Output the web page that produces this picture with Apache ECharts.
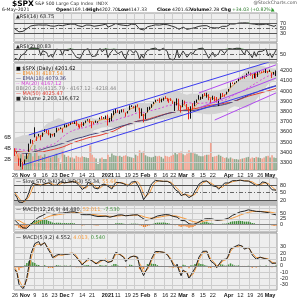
<!DOCTYPE html>
<html><head><meta charset="utf-8">
<script src="https://cdn.jsdelivr.net/npm/echarts@6/dist/echarts.min.js"></script>
<style>html,body{margin:0;padding:0;background:#fff}#c{width:300px;height:300px}</style>
</head><body><div id="c"></div>
<script>
// ---------- DATA ----------
const dates = [
'2020-10-26','2020-10-27','2020-10-28','2020-10-29','2020-10-30',
'2020-11-02','2020-11-03','2020-11-04','2020-11-05','2020-11-06','2020-11-09','2020-11-10','2020-11-11','2020-11-12','2020-11-13','2020-11-16','2020-11-17','2020-11-18','2020-11-19','2020-11-20','2020-11-23','2020-11-24','2020-11-25','2020-11-27','2020-11-30',
'2020-12-01','2020-12-02','2020-12-03','2020-12-04','2020-12-07','2020-12-08','2020-12-09','2020-12-10','2020-12-11','2020-12-14','2020-12-15','2020-12-16','2020-12-17','2020-12-18','2020-12-21','2020-12-22','2020-12-23','2020-12-24','2020-12-28','2020-12-29','2020-12-30','2020-12-31',
'2021-01-04','2021-01-05','2021-01-06','2021-01-07','2021-01-08','2021-01-11','2021-01-12','2021-01-13','2021-01-14','2021-01-15','2021-01-19','2021-01-20','2021-01-21','2021-01-22','2021-01-25','2021-01-26','2021-01-27','2021-01-28','2021-01-29',
'2021-02-01','2021-02-02','2021-02-03','2021-02-04','2021-02-05','2021-02-08','2021-02-09','2021-02-10','2021-02-11','2021-02-12','2021-02-16','2021-02-17','2021-02-18','2021-02-19','2021-02-22','2021-02-23','2021-02-24','2021-02-25','2021-02-26',
'2021-03-01','2021-03-02','2021-03-03','2021-03-04','2021-03-05','2021-03-08','2021-03-09','2021-03-10','2021-03-11','2021-03-12','2021-03-15','2021-03-16','2021-03-17','2021-03-18','2021-03-19','2021-03-22','2021-03-23','2021-03-24','2021-03-25','2021-03-26','2021-03-29','2021-03-30','2021-03-31',
'2021-04-01','2021-04-05','2021-04-06','2021-04-07','2021-04-08','2021-04-09','2021-04-12','2021-04-13','2021-04-14','2021-04-15','2021-04-16','2021-04-19','2021-04-20','2021-04-21','2021-04-22','2021-04-23','2021-04-26','2021-04-27','2021-04-28','2021-04-29','2021-04-30',
'2021-05-03','2021-05-04','2021-05-05','2021-05-06'];

const opens = [
3441.42,3403.15,3342.48,3277.17,3293.59,
3296.20,3336.25,3406.46,3485.74,3508.34,3583.04,3543.26,3563.22,3562.67,3552.57,3600.16,3610.31,3612.09,3559.41,3579.31,3566.82,3594.52,3635.50,3638.55,3634.18,
3645.87,3653.78,3668.28,3670.94,3694.73,3683.05,3705.98,3659.13,3656.08,3675.27,3666.41,3696.25,3713.65,3722.39,3684.28,3698.08,3693.42,3694.03,3723.03,3750.01,3736.19,3733.27,
3764.61,3698.02,3712.20,3764.71,3815.05,3803.14,3801.62,3802.23,3814.98,3788.73,3781.88,3816.22,3857.46,3844.24,3851.68,3862.96,3836.83,3755.75,3778.05,
3731.17,3791.84,3840.27,3836.66,3878.30,3892.59,3910.49,3920.78,3916.40,3911.65,3939.61,3918.50,3915.86,3921.16,3885.55,3857.07,3873.71,3915.80,3839.66,
3842.51,3903.64,3863.99,3818.53,3793.58,3844.39,3851.93,3891.99,3915.54,3924.52,3942.96,3973.59,3949.57,3953.50,3913.14,3916.48,3937.60,3919.93,3879.34,3917.12,3969.31,3963.34,3967.25,
3992.78,4034.44,4075.57,4074.29,4089.95,4096.11,4124.71,4130.10,4141.58,4139.76,4174.14,4179.80,4159.18,4128.42,4170.46,4138.78,4185.03,4188.25,4185.14,4206.14,4198.10,
4191.98,4179.04,4177.06,4169.14];

const highs = [
3441.42,3409.51,3342.48,3341.05,3304.93,
3330.14,3389.49,3486.25,3529.05,3521.58,3645.99,3557.22,3581.16,3569.02,3593.66,3628.51,3623.11,3619.09,3585.22,3581.23,3589.81,3642.31,3635.50,3644.31,3634.18,
3678.45,3670.96,3682.73,3699.20,3697.41,3708.45,3712.39,3678.49,3665.91,3697.61,3695.29,3711.27,3725.12,3726.70,3702.90,3698.26,3711.24,3703.82,3740.51,3756.12,3744.63,3760.20,
3769.99,3737.83,3783.04,3811.55,3826.69,3817.86,3810.78,3820.96,3823.60,3788.73,3804.53,3859.75,3861.45,3852.31,3859.23,3870.90,3836.83,3830.50,3778.05,
3784.32,3843.09,3847.51,3872.42,3894.56,3915.77,3918.35,3931.50,3925.99,3937.23,3950.43,3933.61,3921.98,3930.41,3902.92,3895.98,3928.65,3925.02,3861.08,
3914.50,3906.41,3874.47,3843.67,3851.69,3881.06,3903.76,3917.35,3960.27,3944.99,3970.08,3981.04,3983.87,3969.62,3930.12,3955.31,3949.13,3942.08,3919.54,3978.19,3981.83,3968.01,3994.41,
4020.63,4083.42,4086.23,4083.13,4098.19,4129.48,4131.76,4148.00,4151.69,4173.49,4191.31,4180.81,4159.18,4175.02,4179.57,4194.17,4194.19,4193.35,4201.53,4218.78,4198.10,
4209.39,4179.04,4187.72,4202.70];

const lows = [
3364.86,3388.71,3268.89,3259.82,3233.94,
3279.74,3336.25,3405.17,3485.74,3484.34,3547.48,3511.91,3557.00,3518.58,3552.57,3600.16,3588.68,3567.33,3543.84,3556.85,3552.77,3594.52,3617.76,3629.33,3594.39,
3645.87,3644.84,3657.17,3670.94,3678.88,3678.83,3660.54,3645.18,3633.40,3645.84,3659.62,3688.57,3710.87,3685.84,3636.48,3676.16,3689.28,3689.32,3723.03,3723.31,3730.21,3726.88,
3662.71,3695.07,3705.34,3764.71,3783.60,3789.02,3776.51,3791.50,3792.86,3749.62,3780.37,3816.22,3845.05,3830.41,3797.16,3847.78,3732.48,3755.75,3694.12,
3725.62,3791.84,3816.68,3836.66,3874.93,3892.59,3902.64,3884.94,3890.39,3905.78,3923.85,3900.43,3885.03,3903.07,3874.71,3805.59,3859.60,3814.04,3789.54,
3842.51,3868.57,3818.86,3723.34,3730.19,3819.25,3851.93,3885.73,3915.54,3915.21,3923.54,3953.44,3935.74,3910.86,3886.75,3914.16,3901.57,3889.07,3853.50,3917.12,3943.25,3944.35,3966.98,
3992.78,4034.44,4068.14,4068.31,4082.54,4095.51,4114.82,4124.43,4120.87,4139.76,4170.75,4150.47,4118.38,4126.35,4123.69,4138.78,4182.36,4176.22,4181.78,4176.81,4174.85,
4188.03,4128.59,4160.94,4147.33];

const closes = [
3400.97,3390.68,3271.03,3310.11,3269.96,
3310.24,3369.16,3443.44,3510.45,3509.44,3550.50,3545.53,3572.66,3537.01,3585.15,3626.91,3609.53,3567.79,3581.87,3557.54,3577.59,3635.41,3629.65,3638.35,3621.63,
3662.45,3669.01,3666.72,3699.12,3691.96,3702.25,3672.82,3668.10,3663.46,3647.49,3694.62,3701.17,3722.48,3709.41,3694.92,3687.26,3690.01,3703.06,3735.36,3727.04,3732.04,3756.07,
3700.65,3726.86,3748.14,3803.79,3824.68,3799.61,3801.19,3809.84,3795.54,3768.25,3798.91,3851.85,3853.07,3841.47,3855.36,3849.62,3750.77,3787.38,3714.24,
3773.86,3826.31,3830.17,3871.74,3886.83,3915.59,3911.23,3909.88,3916.38,3934.83,3932.59,3931.33,3913.97,3906.71,3876.50,3881.37,3925.43,3829.34,3811.15,
3901.82,3870.29,3819.72,3768.47,3841.94,3821.35,3875.44,3898.81,3939.34,3943.34,3968.94,3962.71,3974.12,3915.46,3913.10,3940.59,3910.52,3889.14,3909.52,3974.54,3971.09,3958.55,3972.89,
4019.87,4077.91,4073.94,4079.95,4097.17,4128.80,4127.99,4141.59,4124.66,4170.42,4185.47,4163.26,4134.94,4173.42,4134.98,4180.17,4187.62,4186.72,4183.18,4211.47,4181.17,
4192.66,4164.66,4167.59,4201.62];

// volume in billions
const volumes = [
2.9,2.7,3.2,2.9,3.3,
2.6,2.5,3.4,3.0,2.5,4.6,3.6,2.6,2.7,2.4,2.9,2.4,2.6,2.3,2.4,2.7,3.0,2.2,1.2,3.5,
2.8,2.4,2.6,2.3,2.3,2.1,2.6,2.4,2.3,2.5,2.4,2.3,2.2,4.5,2.8,2.3,2.1,1.1,2.1,2.3,2.0,2.0,
2.8,2.4,3.0,2.7,2.6,2.5,2.6,2.4,2.6,2.7,2.5,2.4,2.3,2.2,2.8,2.6,3.6,3.3,3.4,
2.7,2.5,2.4,2.3,2.4,2.6,2.5,2.6,2.4,2.1,2.6,2.5,2.4,2.6,2.8,3.2,2.9,3.3,3.4,
2.9,2.7,3.0,3.6,3.3,3.2,3.0,2.9,2.6,2.5,2.5,2.7,2.8,2.8,5.0,2.4,2.5,2.6,2.8,2.6,2.4,2.2,2.3,
2.1,2.3,2.1,2.0,2.0,1.9,2.0,2.1,2.2,2.3,2.4,2.1,2.3,2.2,2.4,2.3,2.2,2.1,2.3,2.5,2.6,
2.3,2.7,2.3,2.2];

// history before the visible window (Aug 3 - Oct 23 2020) used to warm up indicators
const warmCloses = [
3294.61,3306.51,3327.77,3349.16,3351.28,3360.47,3333.69,3380.35,3373.43,3372.85,3381.99,3389.78,3374.85,3385.51,3397.16,3431.28,3443.62,3478.73,3484.55,3508.01,3500.31,
3526.65,3580.84,3455.06,3426.96,3331.84,3398.96,3339.19,3340.97,3383.54,3401.20,3385.49,3357.01,3319.47,3281.06,3315.57,3236.92,3246.59,3298.46,3351.60,3335.47,3363.00,
3380.80,3348.42,3408.60,3360.97,3419.44,3446.83,3477.14,3534.22,3511.93,3488.67,3483.34,3483.81,3426.92,3443.12,3435.56,3453.49,3465.39];
// highs / lows of the last 20 warm-up days (Sep 28 - Oct 23)
const warmHighs = [3360.74,3357.92,3393.56,3397.18,3369.10,3409.57,3431.56,3426.26,3447.28,3482.34,3549.85,3534.01,3527.94,3489.08,3515.76,3502.42,3476.93,3464.86,3460.53,3466.46];
const warmLows  = [3332.91,3327.54,3340.47,3361.39,3323.69,3367.27,3354.54,3384.12,3428.15,3458.07,3499.61,3500.86,3480.55,3440.89,3480.45,3419.93,3435.65,3433.06,3415.34,3440.45];

// x tick labels
const tickDates = ['2020-10-26','2020-11-02','2020-11-09','2020-11-16','2020-11-23','2020-12-01','2020-12-07','2020-12-14','2020-12-21','2021-01-04','2021-01-11','2021-01-19','2021-01-25','2021-02-01','2021-02-08','2021-02-16','2021-02-22','2021-03-01','2021-03-08','2021-03-15','2021-03-22','2021-04-01','2021-04-12','2021-04-19','2021-04-26','2021-05-03'];
const tickTexts = ['26','Nov','9','16','23','Dec','7','14','21','2021','11','19','25','Feb','8','16','22','Mar','8','15','22','Apr','12','19','26','May'];

// y tick labels
const rsi14Ticks = [90,70,50,30,10];
const rsi2Ticks = [90,50,10];
const priceTicks = [4200,4100,4000,3900,3800,3700,3600,3500,3400,3300];
const volTicks = [2,4,6];
const stoTicks = [80,50,20];
const macd1Ticks = [75,50,25,0,-25];
const macd2Ticks = [30,20,10,0,-10,-20,-30];

// hand-drawn trend lines [startDate, startPrice, endDate, endPrice]
const blueLines = [
  ['2020-11-04',3571,'2021-05-06',4305],
  ['2020-10-30',3277,'2021-05-06',4050]
];
const purpleLines = [
  ['2021-03-11',3982,'2021-05-06',4257],
  ['2021-03-11',3835,'2021-05-06',4128],
  ['2021-03-23',3717,'2021-05-06',3982]
];
// period of the blue EMA overlay (its legend value 4079.36 fits a ~50-day average)
const emaLongPeriod = 50;

// ---------- INDICATORS ----------
const W = warmCloses.length, N = closes.length;
const C = warmCloses.concat(closes);
const H = new Array(W - warmHighs.length).fill(null).concat(warmHighs, highs);
const L = new Array(W - warmLows.length).fill(null).concat(warmLows, lows);
function sma(a,n){return a.map((_,i)=>{if(i<n-1)return null;let s=0;for(let j=i-n+1;j<=i;j++){if(a[j]==null)return null;s+=a[j];}return s/n;});}
function sd(a,n){const m=sma(a,n);return a.map((_,i)=>{if(m[i]==null)return null;let s=0;for(let j=i-n+1;j<=i;j++)s+=(a[j]-m[i])**2;return Math.sqrt(s/n);});}
function ema(a,n){const k=2/(n+1);const out=[];let prev=null,cnt=0,sum=0;for(const v of a){if(v==null){out.push(null);continue;}if(prev==null){sum+=v;cnt++;if(cnt===n){prev=sum/n;out.push(prev);}else out.push(null);}else{prev=v*k+prev*(1-k);out.push(prev);}}return out;}
function rsi(a,n){const out=[null];let ag=0,al=0;for(let i=1;i<a.length;i++){const d=a[i]-a[i-1];const g=Math.max(d,0),l=Math.max(-d,0);if(i<=n){ag+=g;al+=l;if(i===n){ag/=n;al/=n;out.push(100-100/(1+ag/al));}else out.push(null);}else{ag=(ag*(n-1)+g)/n;al=(al*(n-1)+l)/n;out.push(al===0?100:100-100/(1+ag/al));}}return out;}
function macd(a,f,s,g){const ef=ema(a,f),es=ema(a,s);const m=a.map((_,i)=>ef[i]==null||es[i]==null?null:ef[i]-es[i]);const sg=ema(m,g);const h=m.map((v,i)=>v==null||sg[i]==null?null:v-sg[i]);return [m,sg,h];}
function fastK(n){return C.map((c,i)=>{if(i<n-1)return null;let hh=-Infinity,ll=Infinity;for(let j=i-n+1;j<=i;j++){if(H[j]==null)return null;hh=Math.max(hh,H[j]);ll=Math.min(ll,L[j]);}return (c-ll)/(hh-ll)*100;});}
const vis = a => a.slice(W);
const ema3 = vis(ema(C,3)), emaLong = vis(ema(C,emaLongPeriod)), ma20 = vis(sma(C,20)), ma50 = vis(sma(C,50));
const sd20 = vis(sd(C,20));
const bbUp = ma20.map((m,i)=>m+2*sd20[i]), bbLo = ma20.map((m,i)=>m-2*sd20[i]);
const rsi14 = vis(rsi(C,14)), rsi2 = vis(rsi(C,2));
const [m1,s1,h1] = macd(C,12,26,9).map(vis);
const [m2,s2,h2] = macd(C,5,9,2).map(vis);
const sk = sma(fastK(14),3), sdd = sma(sk,3);
const stoK = vis(sk), stoD = vis(sdd);

// ---------- CHART ----------
const FONT = 'DejaVu Sans', AXF = 'Liberation Sans';
const tickMap = {}; tickDates.forEach((d,i)=>tickMap[d]=tickTexts[i]);
const boldSet = new Set(['Nov','Dec','2021','Feb','Mar','Apr','May']);
const grids = [[13,29],[43,19],[63,107],[178,27],[205,27],[233,57]].map(([t,h])=>({left:14,right:23,top:t,height:h,show:true,backgroundColor:'#eeeeee',borderColor:'#9a9a9a',borderWidth:1,outerBoundsMode:'none'}));
function xFmt(v){const t=tickMap[v];if(t==null)return '';return boldSet.has(t)?'{b|'+t+'}':t;}
function xAx(gi,showLabel){return {type:'category',gridIndex:gi,data:dates,boundaryGap:true,axisLine:{show:false},axisTick:{show:false},
  axisLabel:{show:showLabel,interval:(i,v)=>v in tickMap,hideOverlap:false,showMinLabel:true,formatter:xFmt,fontSize:5.5,fontFamily:AXF,color:'#222',margin:2,rich:{b:{fontWeight:'bold',fontSize:5.5,fontFamily:AXF,color:'#111'}}},
  splitLine:{show:true,interval:(i,v)=>v in tickMap,lineStyle:{color:'#cdcdcd',width:1}}};}
function yAx(gi,min,max,ticks,pos,fmt){return {type:'value',gridIndex:gi,position:pos||'right',min,max,scale:true,axisLine:{show:false},axisTick:{show:false},splitLine:{show:false},
  axisLabel:{customValues:ticks,fontSize:5.5,fontFamily:AXF,color:'#222',margin:3,formatter:fmt||(v=>String(v))}};}
const xAxes=[0,1,2,3,4,5].map(i=>xAx(i,i===2||i===5));
const yAxes=[
  yAx(0,-8,115,rsi14Ticks), yAx(1,-14,138,rsi2Ticks), yAx(2,3228,4275,priceTicks),
  yAx(2,0,19.6,volTicks,'left',v=>v+'B'),
  yAx(3,0,108,stoTicks), yAx(4,-38,92,macd1Ticks), yAx(5,-38,52,macd2Ticks)];

function gl(vals,special){return {silent:true,symbol:'none',animation:false,label:{show:false},
  lineStyle:{color:'#cdcdcd',width:1,type:'solid'},
  data:vals.map(v=>{const s=special&&special[v];return s?{yAxis:v,lineStyle:s}:{yAxis:v};})};}
const DARK={color:'#555',width:1,type:'solid'}, DASH={color:'#666',width:1,type:[4,2,1,2]};
function helper(xi,yi,vals,special){return {type:'line',xAxisIndex:xi,yAxisIndex:yi,data:[],z:1,silent:true,markLine:gl(vals,special)};}
function line(xi,yi,data,color,width,extra){return Object.assign({type:'line',xAxisIndex:xi,yAxisIndex:yi,data,symbol:'none',showSymbol:false,silent:true,animation:false,lineStyle:{color,width:width||1},z:4},extra||{});}
function fill(xi,yi,data,level,color,above){return {type:'line',xAxisIndex:xi,yAxisIndex:yi,symbol:'none',silent:true,animation:false,z:3,
  data:data.map(v=>v==null?null:(above?Math.max(v,level):Math.min(v,level))),lineStyle:{width:0},areaStyle:{origin:level,color,opacity:1}};}
function hist(xi,yi,data,pos,neg){return {type:'bar',xAxisIndex:xi,yAxisIndex:yi,silent:true,animation:false,barWidth:'70%',z:3,
  data:data.map(v=>({value:v,itemStyle:{color:v>=0?pos:neg}}))};}

const prevClose = i => i===0 ? warmCloses[W-1] : closes[i-1];
const candleData = dates.map((d,i)=>{const up=closes[i]>=prevClose(i);const col=up?'#111':'#e3251f';
  return {value:[opens[i],closes[i],lows[i],highs[i]],itemStyle:{color:col,color0:col,borderColor:col,borderColor0:col}};});
const volData = volumes.map((v,i)=>({value:v,itemStyle:{color:closes[i]>=prevClose(i)?'#8fa98c':'#f2a28f'}}));
const trend = (arr,color)=>arr.map(l=>line(2,2,[[l[0],l[1]],[l[2],l[3]]],color,1,{z:6,connectNulls:true}));

const series=[
  helper(0,0,rsi14Ticks,{70:DARK,30:DARK,50:DASH}),
  fill(0,0,rsi14,70,'#3f8f3a',true), fill(0,0,rsi14,30,'#f07f2a',false),
  line(0,0,rsi14,'#333',1),
  helper(1,1,rsi2Ticks,{90:DARK,10:DARK,50:DASH}),
  fill(1,1,rsi2,90,'#3f8f3a',true), fill(1,1,rsi2,10,'#f07f2a',false),
  line(1,1,rsi2,'#333',1),
  helper(2,2,priceTicks),
  {type:'line',xAxisIndex:2,yAxisIndex:2,data:bbLo,stack:'bb',symbol:'none',silent:true,animation:false,lineStyle:{width:0},z:2},
  {type:'line',xAxisIndex:2,yAxisIndex:2,data:bbUp.map((u,i)=>u-bbLo[i]),stack:'bb',symbol:'none',silent:true,animation:false,lineStyle:{width:0},areaStyle:{color:'#d3d3d3',opacity:1},z:2},
  {type:'bar',xAxisIndex:2,yAxisIndex:3,data:volData,barWidth:'80%',silent:true,animation:false,z:3},
  line(2,2,ma50,'#e23b2e',1),
  line(2,2,ma20,'#d94ad9',1,{lineStyle:{color:'#d94ad9',width:1,type:[2,2]}}),
  line(2,2,emaLong,'#45457a',1),
  line(2,2,ema3,'#f08a24',0.8),
  {type:'candlestick',xAxisIndex:2,yAxisIndex:2,data:candleData,barWidth:'55%',silent:true,animation:false,z:5},
  ...trend(blueLines,'#3a3af0'), ...trend(purpleLines,'#b04af0'),
  helper(3,4,stoTicks,{80:DARK,20:DARK,50:DASH}),
  {type:'line',xAxisIndex:3,yAxisIndex:4,data:[],z:1,silent:true,markArea:{silent:true,itemStyle:{color:'#bdbdbd'},data:[[{yAxis:0},{yAxis:20}]]}},
  line(3,4,stoD,'#f59a3c',1), line(3,4,stoK,'#222',1),
  helper(4,5,macd1Ticks,{0:{color:'#888',width:1}}),
  hist(4,5,h1,'#3f8f3a','#f07f2a'),
  line(4,5,s1,'#f59a3c',1), line(4,5,m1,'#222',1),
  helper(5,6,macd2Ticks,{0:{color:'#888',width:1}}),
  hist(5,6,h2,'#3f8f3a','#f07f2a'),
  line(5,6,s2,'#f59a3c',1), line(5,6,m2,'#222',1)
];

const T=(x,y,text,fill,size,bold,extra)=>Object.assign({type:'text',x,y,silent:true,style:{text,fill:fill||'#000',font:(bold?'bold ':'')+(size||5)+'px '+FONT,textVerticalAlign:'top'},z:100},extra||{});
const graphic=[
  T(12,0,'$SPX','#000',7.5,true), T(35,1.5,'S&P 500 Large Cap Index  INDX','#333',4.6),
  T(297,0.5,'@StockCharts.com','#555',4.6,false,{style:{text:'@StockCharts.com',fill:'#555',font:'4.6px '+FONT,textVerticalAlign:'top',textAlign:'right'}}),
  T(2,7.5,'6-May-2021','#222',4.6),
  T(56,7.5,'Open','#000',4.6,true), T(69,7.5,'4169.14','#222',4.6),
  T(87,7.5,'High','#000',4.6,true), T(99,7.5,'4202.70','#222',4.6),
  T(118,7.5,'Low','#000',4.6,true), T(128,7.5,'4147.33','#222',4.6),
  T(157,7.5,'Close','#000',4.6,true), T(172,7.5,'4201.62','#222',4.6),
  T(190,7.5,'Volume','#000',4.6,true), T(209,7.5,'2.2B','#222',4.6),
  T(221,7.5,'Chg','#000',4.6,true), T(232,7.5,'+34.03 (+0.82%)','#2a7a2a',4.6), T(271,7.5,'▲','#2a9a2a',4.6),
  T(16,14,'▲RSI(14) 63.75','#222',5),
  T(16,44,'▲RSI(2) 80.83','#222',5),
  T(16,66,'■ $SPX (Daily) 4201.62','#000',5),
  T(16,71,'— EMA(3) 4187.54','#f08a24',5),
  T(16,76,'— EMA(18) 4079.36','#45457a',5),
  T(16,81,'-- MA(20) 4167.12','#d94ad9',5),
  T(16,86,'BB(20,2.0) 4115.79 - 4167.12 - 4218.44','#888',5),
  T(16,91,'— MA(50) 4025.47','#e23b2e',5),
  T(16,96,'■ Volume 2,203,136,672','#222',5),
  {type:'text',x:16,y:179,silent:true,z:100,style:{text:'{k|— Slow STO %K(14) %D(3) 55.34,} {d|55.66}',textVerticalAlign:'top',font:'5px '+FONT,rich:{k:{fill:'#222',font:'5px '+FONT},d:{fill:'#f59a3c',font:'5px '+FONT}}}},
  {type:'text',x:16,y:207,silent:true,z:100,style:{text:'{k|— MACD(12,26,9) 44.480,} {d|52.011,} {g|-7.530}',textVerticalAlign:'top',font:'5px '+FONT,rich:{k:{fill:'#222',font:'5px '+FONT},d:{fill:'#f59a3c',font:'5px '+FONT},g:{fill:'#3f8f3a',font:'5px '+FONT}}}},
  {type:'text',x:16,y:235,silent:true,z:100,style:{text:'{k|— MACD(5,9,2) 4.552,} {d|4.013,} {g|0.540}',textVerticalAlign:'top',font:'5px '+FONT,rich:{k:{fill:'#222',font:'5px '+FONT},d:{fill:'#f59a3c',font:'5px '+FONT},g:{fill:'#3f8f3a',font:'5px '+FONT}}}}
];

const chart = echarts.init(document.getElementById('c'),null,{renderer:'canvas'});
chart.setOption({animation:false,backgroundColor:'#fff',textStyle:{fontFamily:FONT},grid:grids,xAxis:xAxes,yAxis:yAxes,series,graphic});
</script></body></html>
